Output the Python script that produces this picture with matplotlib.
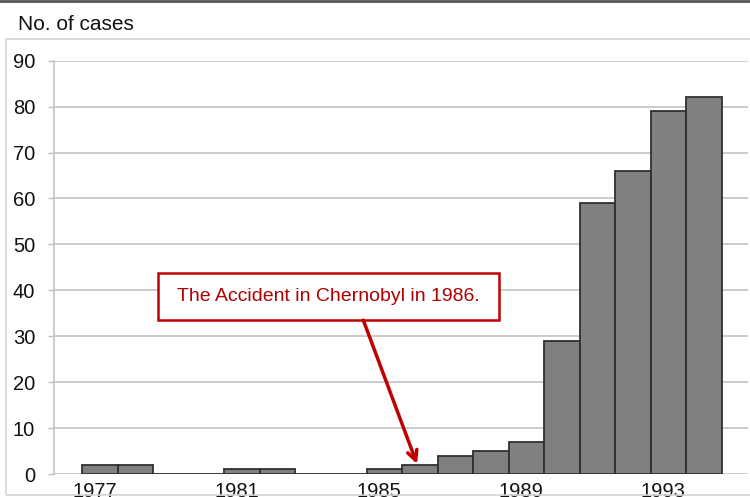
import matplotlib.pyplot as plt
from matplotlib.patches import Rectangle
from matplotlib.lines import Line2D

plt.rcParams['font.family'] = ['Liberation Sans', 'DejaVu Sans']

# Cases per year
years = [1977, 1978, 1979, 1980, 1981, 1982, 1983, 1984, 1985,
         1986, 1987, 1988, 1989, 1990, 1991, 1992, 1993, 1994]
cases = [2, 2, 0, 0, 1, 1, 0, 0, 1, 2, 4, 5, 7, 29, 59, 66, 79, 82]
tick_years = [1977, 1981, 1985, 1989, 1993]
y_ticks = [0, 10, 20, 30, 40, 50, 60, 70, 80, 90]
note = "The Accident in Chernobyl in 1986."

fig = plt.figure(figsize=(7.5, 4.97), dpi=100)

# outer chart frame and dark line at the very top
fig.patches.append(Rectangle((6 / 750, 2 / 497), 1.0, (495 - 39) / 497,
                             transform=fig.transFigure, fill=False,
                             edgecolor='#d4d4d4', linewidth=1.2))
fig.lines.append(Line2D([0, 1], [0.998, 0.998], transform=fig.transFigure,
                        color='#555555', linewidth=2))

ax = fig.add_axes([54 / 750, 23 / 497, 694 / 750, (474 - 60.7) / 497])
ax.set_facecolor('none')

ax.bar(years, cases, width=1.0, color='#808080', edgecolor='#303030',
       linewidth=1.3, zorder=3)

ax.set_xlim(1975.71, 1995.23)
ax.set_ylim(0, 90)
ax.set_yticks(y_ticks)
ax.set_xticks([y - 0.15 for y in tick_years])
ax.set_xticklabels([str(y) for y in tick_years])
ax.tick_params(axis='x', length=0, pad=6, labelsize=14.5, labelcolor='#111111')
ax.tick_params(axis='y', length=4.5, width=1, color='#bfbfbf', pad=9,
               labelsize=14.5, labelcolor='#111111')

ax.grid(axis='y', color='#c4c4c4', linewidth=1.2, zorder=0)
for side in ['top', 'right', 'bottom']:
    ax.spines[side].set_visible(False)
ax.spines['left'].set_color('#c4c4c4')
ax.spines['left'].set_linewidth(1.2)

# annotation box and arrow
ax.add_patch(Rectangle((1978.64, 33.5), 9.58, 10.2, facecolor='white',
                       edgecolor='#c00000', linewidth=1.8, zorder=4))
ax.text(1983.43, 38.6, note, ha='center', va='center', fontsize=14,
        color='#b00000', zorder=5)
ax.annotate('', xy=(1985.92, 2.2), xytext=(1984.41, 33.5),
            arrowprops=dict(arrowstyle='->,head_length=0.7,head_width=0.35',
                            color='#c00000', linewidth=2.5,
                            shrinkA=0, shrinkB=0), zorder=5)

fig.text(18 / 750, (497 - 30) / 497, "No. of cases", fontsize=15,
         color='#111111', va='baseline', ha='left')

fig.savefig('out.png', dpi=100)
